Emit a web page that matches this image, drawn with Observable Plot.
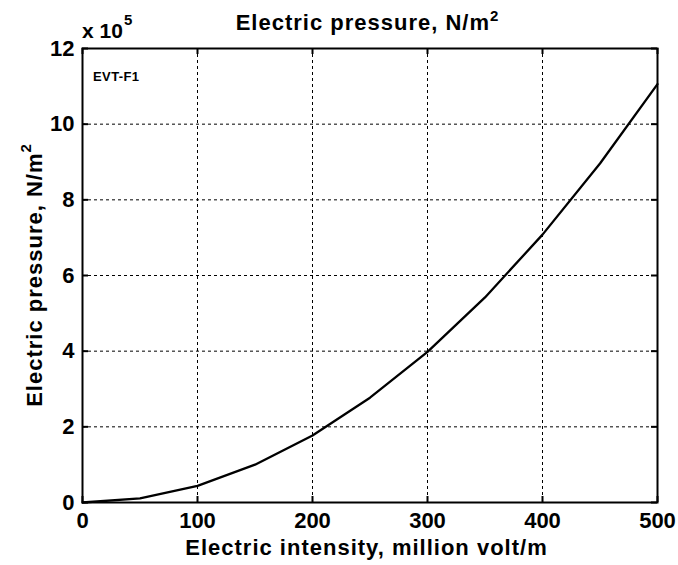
<!DOCTYPE html>
<html><head><meta charset="utf-8">
<script src="https://cdn.jsdelivr.net/npm/d3@7"></script>
<script src="https://cdn.jsdelivr.net/npm/@observablehq/plot@0.6"></script>
<style>body{margin:0;background:#fff} svg{display:block}</style>
</head><body><div id="chart"></div>
<script>
// Data (electric intensity in million V/m, pressure in units of 1e5 N/m^2)
const intensity = [0, 50, 100, 150, 200, 250, 300, 350, 400, 450, 500];
const pressure  = [0, 0.11, 0.44, 1.00, 1.77, 2.77, 3.98, 5.42, 7.08, 8.96, 11.06];
const xTicks = [0, 100, 200, 300, 400, 500];
const yTicks = [0, 2, 4, 6, 8, 10, 12];
const titleText = "Electric pressure, N/m";
const xLabelText = "Electric intensity, million volt/m";
const yLabelText = "Electric pressure, N/m";
const exponentText = "5";
const tagText = "EVT-F1";

const W = 678, H = 565, mL = 82, mR = 21, mT = 48, mB = 63;
const plotH = H - mT - mB;
const FONT = "'Liberation Sans', Arial, Helvetica, sans-serif";
const data = intensity.map((x, i) => ({x, y: pressure[i]}));
const tick = 6;

const plot = Plot.plot({
  width: W, height: H,
  marginLeft: mL, marginRight: mR, marginTop: mT, marginBottom: mB,
  style: {fontFamily: FONT, fontWeight: "bold", fontSize: "22px", background: "#fff", color: "#000", overflow: "visible"},
  x: {domain: [0, 500]},
  y: {domain: [0, 12]},
  marks: [
    Plot.gridX(xTicks.slice(1, -1), {stroke: "#000", strokeOpacity: 1, strokeWidth: 1, strokeDasharray: "3,3"}),
    Plot.gridY(yTicks.slice(1, -1), {stroke: "#000", strokeOpacity: 1, strokeWidth: 1, strokeDasharray: "3,3"}),
    // inward tick marks on all four sides
    Plot.ruleX(xTicks, {insetTop: plotH - tick, stroke: "#000", strokeWidth: 2}),
    Plot.ruleX(xTicks, {insetBottom: plotH - tick, stroke: "#000", strokeWidth: 2}),
    Plot.ruleY(yTicks, {insetRight: (W - mL - mR) - tick, stroke: "#000", strokeWidth: 2}),
    Plot.ruleY(yTicks, {insetLeft: (W - mL - mR) - tick, stroke: "#000", strokeWidth: 2}),
    Plot.axisX(xTicks, {tickSize: 0, tickPadding: 10, fontSize: 22, fontWeight: "bold", label: null, tickFormat: d => String(d)}),
    Plot.axisY(yTicks, {tickSize: 0, tickPadding: 8, fontSize: 22, fontWeight: "bold", label: null, tickFormat: d => String(d)}),
    Plot.line(data, {x: "x", y: "y", stroke: "#000", strokeWidth: 2.3}),
    Plot.frame({stroke: "#000", strokeWidth: 2})
  ]
});
document.getElementById("chart").appendChild(plot);

const svg = d3.select(plot);
const cx = (mL + W - mR) / 2;
const cy = mT + plotH / 2;

function addText(parent, main, sup, attrs, fs, supFs, supDy, spacing) {
  const t = parent.append("text")
    .attr("font-family", FONT).attr("font-weight", "bold")
    .attr("font-size", fs).attr("fill", "#000")
    .attr("text-anchor", "start")
    .attr("letter-spacing", spacing || 0);
  for (const k in attrs) t.attr(k, attrs[k]);
  t.append("tspan").text(main);
  if (sup) t.append("tspan").attr("font-size", supFs).attr("dy", supDy).text(sup);
  return t;
}

// Title
addText(svg, titleText, "2", {x: cx - 2, y: 30, "text-anchor": "middle"}, 22, 15, -9, 1);
// X label
addText(svg, xLabelText, null, {x: cx - 3, y: 555, "text-anchor": "middle"}, 22, null, null, 1);
// Y label (rotated)
addText(svg, yLabelText, "2", {transform: `translate(42,${cy}) rotate(-90)`, "text-anchor": "middle"}, 22, 15, -11, 1);
// Exponent marker
const ex = addText(svg, "x 10", null, {x: mL, y: 38}, 21);
ex.append("tspan").attr("font-size", 15).attr("dy", -13).attr("dx", 1).text(exponentText);
// Tag
addText(svg, tagText, null, {x: mL + 11, y: 81}, 13, null, null, 0.4);
</script>
</body></html>
